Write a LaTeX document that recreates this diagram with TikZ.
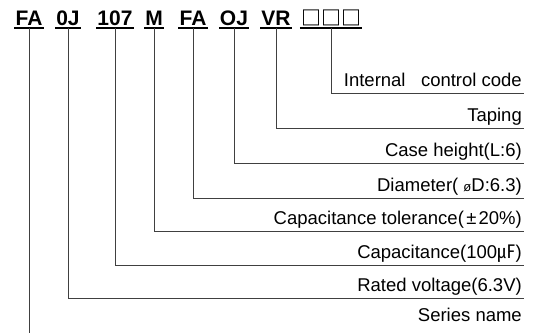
\documentclass[tikz,border=0pt]{standalone}
\usepackage{fontspec}
\setmainfont{Liberation Sans}
\newfontfamily\cjk{Noto Sans CJK JP}
\begin{document}
\begin{tikzpicture}[x=1pt,y=-1pt,
  code/.style={font=\fontsize{21}{21}\selectfont\bfseries, inner sep=0pt, anchor=base},
  lab/.style={font=\fontsize{18.5}{18.5}\selectfont, inner sep=0pt, anchor=base east},
  uline/.style={line width=1.4pt, black},
  lead/.style={line width=0.9pt, black!75}]
\useasboundingbox (0,0) rectangle (534,333);

% part number fields
\node[code] (c1) at (29,25)  {FA};
\node[code] (c2) at (68,25)  {0J};
\node[code] (c3) at (115,25) {107};
\node[code] (c4) at (154,25) {M};
\node[code] (c5) at (193,25) {FA};
\node[code] (c6) at (234,25) {OJ};
\node[code] (c7) at (276,25) {VR};
\node[code] (c8) at (331,25) {\fontsize{20}{20}\selectfont\cjk □□□};

% underlines of the fields
\foreach \c in {c1,c2,c3,c4,c5,c6,c7,c8}
  \draw[uline] ([xshift=-1pt,yshift=-2.8pt]\c.base west) -- ([xshift=1pt,yshift=-2.8pt]\c.base east);

% descriptions
\node[lab] (l8) at (522,86)  {Internal\ \ \ control code};
\node[lab] (l7) at (522,121) {Taping};
\node[lab] (l6) at (522,156) {Case height(L:6)};
\node[lab] (l5) at (522,191) {Diameter( {\fontsize{13}{13}\selectfont ø}D:6.3)};
\node[lab] (l4) at (522,224) {Capacitance tolerance(\kern2.5pt±\kern2pt20\%)};
\node[lab] (l3) at (522,258) {Capacitance(100{\cjk ㎌})};
\node[lab] (l2) at (522,291) {Rated voltage(6.3V)};
\node[lab] (l1) at (522,321) {Series name};

% ends of the leader lines
\coordinate (e8) at (524,93);
\coordinate (e7) at (524,128);
\coordinate (e6) at (524,163);
\coordinate (e5) at (524,198);
\coordinate (e4) at (524,231);
\coordinate (e3) at (524,265);
\coordinate (e2) at (524,298);
\coordinate (e1) at (29,333);

% leader lines
\foreach \i in {2,...,8}
  \draw[lead] ([yshift=-2.8pt]c\i.base) |- (e\i);
\draw[lead] ([yshift=-2.8pt]c1.base) -- (e1);
\end{tikzpicture}
\end{document}
